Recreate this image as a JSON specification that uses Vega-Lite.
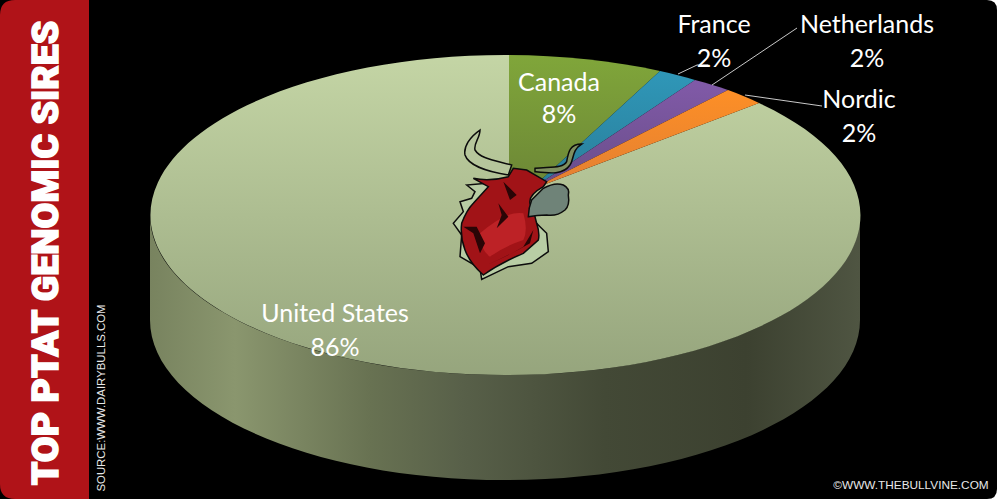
{
"$schema":"https://vega.github.io/schema/vega-lite/v6.json",
"width":1000,"height":500,"padding":0,"autosize":{"type":"none"},
"background":"#ffffff",
"config":{"view":{"stroke":null}},
"datasets":{
"slices":[{"country":"United States","share":0.86},{"country":"Canada","share":0.08},{"country":"France","share":0.02},{"country":"Netherlands","share":0.02},{"country":"Nordic","share":0.02}],
"leaders":[{"country":"France"},{"country":"Netherlands"},{"country":"Nordic"}],
"decor":[{"part":"card"},{"part":"band"}],
"wall":[{"part":"wall"}],
"bull":[{"part":"ring"},{"part":"horn"},{"part":"thin"},{"part":"body"},{"part":"snout"}],
"bullshade":[{"part":"light"},{"part":"shade"}],
"notes":[{"key":"title","text":"TOP PTAT GENOMIC SIRES"},{"key":"source","text":"SOURCE:WWW.DAIRYBULLS.COM"},{"key":"credit","text":"©WWW.THEBULLVINE.COM"}]
},
"layer":[
{"data":{"name":"decor"},"mark":{"type":"point","filled":true,"opacity":1,"size":4,"strokeWidth":0},
"encoding":{
"shape":{"field":"part","type":"nominal","legend":null,"scale":{"domain":["card","band"],"range":[
"M-500,-250 L487,-250 Q497,-250 497,-240 L497,239 Q497,249 487,249 L-500,249 Z",
"M-485,-250 L-411,-250 L-411,249 L-485,249 Q-500,249 -500,234 L-500,-235 Q-500,-250 -485,-250 Z"]}},
"fill":{"field":"part","type":"nominal","legend":null,"scale":{"domain":["card","band"],"range":["#000000","#b01318"]}}
}},
{"data":{"name":"wall"},"mark":{"type":"point","filled":true,"opacity":1,"size":4,"strokeWidth":0,
"fill":{"gradient":"linear","x1":0,"y1":0,"x2":1,"y2":0,"stops":[{"offset":0,"color":"#78835f"},{"offset":0.12,"color":"#8a966e"},{"offset":0.31,"color":"#687252"},{"offset":0.44,"color":"#586049"},{"offset":0.64,"color":"#434936"},{"offset":0.84,"color":"#3c4130"},{"offset":1,"color":"#4f5542"}]}},
"encoding":{
"shape":{"field":"part","type":"nominal","legend":null,"scale":{"domain":["wall"],"range":["M-350,-35 A355,160 0 0 0 360,-35 L360,70 A355,160 0 0 1 -350,70 Z"]}}
}},
{"data":{"name":"slices"},
"encoding":{
"shape":{"field":"country","type":"nominal","legend":null,"scale":{"domain":["United States","Canada","France","Netherlands","Nordic"],"range":[
"M259,-147 A355,160 0 1 1 9,-195 L9,-60 L30,-60 Z",
"M9,-195 A355,160 0 0 1 160,-179 L30,-60 L9,-60 Z",
"M160,-179 A355,160 0 0 1 195,-170 L30,-60 Z",
"M195,-170 A355,160 0 0 1 228,-160 L30,-60 Z",
"M228,-160 A355,160 0 0 1 259,-147 L30,-60 Z"]}}
},
"layer":[
{"transform":[{"filter":"datum.country=='United States'"}],"mark":{"type":"point","filled":true,"opacity":1,"size":4,"strokeWidth":0,"fill":{"gradient":"linear","x1":0,"y1":0,"x2":0,"y2":1,"stops":[{"offset":0,"color":"#c4d5a5"},{"offset":1,"color":"#96a57d"}]}}},
{"transform":[{"filter":"datum.country=='Canada'"}],"mark":{"type":"point","filled":true,"opacity":1,"size":4,"strokeWidth":0,"fill":{"gradient":"linear","x1":0,"y1":0,"x2":0,"y2":1,"stops":[{"offset":0,"color":"#80a63a"},{"offset":1,"color":"#6c8636"}]}}},
{"transform":[{"filter":"datum.country=='France'"}],"mark":{"type":"point","filled":true,"opacity":1,"size":4,"strokeWidth":0,"fill":{"gradient":"linear","x1":0,"y1":0,"x2":0,"y2":1,"stops":[{"offset":0,"color":"#2f97b8"},{"offset":1,"color":"#2a7d99"}]}}},
{"transform":[{"filter":"datum.country=='Netherlands'"}],"mark":{"type":"point","filled":true,"opacity":1,"size":4,"strokeWidth":0,"fill":{"gradient":"linear","x1":0,"y1":0,"x2":0,"y2":1,"stops":[{"offset":0,"color":"#815aa8"},{"offset":1,"color":"#684d88"}]}}},
{"transform":[{"filter":"datum.country=='Nordic'"}],"mark":{"type":"point","filled":true,"opacity":1,"size":4,"strokeWidth":0,"fill":{"gradient":"linear","x1":0,"y1":0,"x2":0,"y2":1,"stops":[{"offset":0,"color":"#fd8f26"},{"offset":1,"color":"#e27f33"}]}}}
]},
{"data":{"name":"leaders"},"mark":{"type":"point","filled":false,"opacity":1,"size":4,"strokeWidth":1,"color":"#c8c8c8"},
"encoding":{
"shape":{"field":"country","type":"nominal","legend":null,"scale":{"domain":["France","Netherlands","Nordic"],"range":[
"M178,-176 L197,-185 L208,-185",
"M212,-165 L297,-222",
"M245,-155 L322,-144"]}}
}},
{"data":{"name":"bull"},"mark":{"type":"point","filled":true,"opacity":1,"size":0.4444,"stroke":"#0c0c0c","strokeWidth":1.5},
"encoding":{
"shape":{"field":"part","type":"nominal","legend":null,"scale":{"domain":["ring","horn","thin","body","snout"],"range":[
"M-100,-195 L-75,-175 L-85,-155 L-120,-145 L-110,-115 L-140,-80 L-115,-45 L-120,20 L-60,55 L-55,88 L25,50 L95,40 L145,5 L140,-50 L120,-70 L90,-100 L20,-160 L-40,-200 Z",
"M35,-255 C-20,-270 -60,-275 -75,-300 C-80,-320 -60,-335 -60,-360 C-90,-340 -110,-310 -105,-285 C-95,-255 -40,-235 25,-225 Z",
"M105,-235 C150,-230 190,-225 210,-255 C222,-270 215,-300 245,-318 C210,-318 205,-295 200,-265 C190,-245 150,-250 105,-245 Z",
"M-80,-215 Q-30,-205 25,-220 L40,-245 L80,-240 L140,-205 L130,-190 Q85,-165 90,-140 Q105,-110 110,-80 Q120,-50 115,-30 L70,10 Q0,40 -50,75 Q-90,40 -105,0 Q-120,-40 -115,-80 Q-100,-120 -80,-140 L-35,-190 Z",
"M130,-185 Q165,-205 190,-195 Q210,-185 205,-165 Q210,-135 195,-120 Q170,-100 140,-105 Q110,-105 85,-100 Q85,-125 95,-150 Z"]}},
"fill":{"field":"part","type":"nominal","legend":null,"scale":{"domain":["ring","horn","thin","body","snout"],"range":["#b8cda4","#b6c69c","#7f8f5f","#a11317","#6f8378"]}}
}},
{"data":{"name":"bullshade"},"mark":{"type":"point","filled":true,"opacity":1,"size":0.4444,"strokeWidth":0},
"encoding":{
"shape":{"field":"part","type":"nominal","legend":null,"scale":{"domain":["light","shade"],"range":[
"M-60,-50 Q20,-120 70,-110 Q85,-60 70,-30 Q10,-10 -30,20 Q-60,0 -60,-50 Z",
"M-5,-140 L25,-100 L-10,-65 L5,-105 Z M-110,-70 L-70,-70 L-45,-20 L-60,10 L-80,-50 Z M-40,45 Q40,10 90,-20 L100,-60 L70,-10 Q20,20 -40,45 Z M10,-205 L50,-165 L30,-150 Z"]}},
"fill":{"field":"part","type":"nominal","legend":null,"scale":{"domain":["light","shade"],"range":["#bd2226","#2a0506"]}}
}},
{"data":{"name":"slices"},
"transform":[{"calculate":"datum.country + '\\n' + format(datum.share, '.0%')","as":"label"}],
"encoding":{"text":{"field":"label"}},
"layer":[
{"transform":[{"filter":"datum.country=='United States'"}],"mark":{"type":"text","font":"Lato","fontSize":25,"lineBreak":"\n","lineHeight":34,"color":"#ffffff","dx":-165,"dy":64}},
{"transform":[{"filter":"datum.country=='Canada'"}],"mark":{"type":"text","font":"Lato","fontSize":25,"lineBreak":"\n","lineHeight":32,"color":"#ffffff","dx":59,"dy":-167}},
{"transform":[{"filter":"datum.country=='France'"}],"mark":{"type":"text","font":"Lato","fontSize":25,"lineBreak":"\n","lineHeight":34,"color":"#ffffff","dx":214,"dy":-225}},
{"transform":[{"filter":"datum.country=='Netherlands'"}],"mark":{"type":"text","font":"Lato","fontSize":25,"lineBreak":"\n","lineHeight":34,"color":"#ffffff","dx":367,"dy":-225}},
{"transform":[{"filter":"datum.country=='Nordic'"}],"mark":{"type":"text","font":"Lato","fontSize":25,"lineBreak":"\n","lineHeight":34,"color":"#ffffff","dx":359,"dy":-150}}
]},
{"data":{"name":"notes"},"transform":[{"filter":"datum.key=='title'"}],"mark":{"type":"text","font":"Roboto","fontWeight":900,"fontSize":37.5,"color":"#ffffff","stroke":"#ffffff","strokeWidth":1.5,"angle":270,"dx":-3,"dy":-453},"encoding":{"text":{"field":"text"}}},
{"data":{"name":"notes"},"transform":[{"filter":"datum.key=='source'"}],"mark":{"type":"text","font":"Liberation Sans","fontSize":11.4,"color":"#e8e8e8","angle":270,"dx":-148,"dy":-398},"encoding":{"text":{"field":"text"}}},
{"data":{"name":"notes"},"transform":[{"filter":"datum.key=='credit'"}],"mark":{"type":"text","font":"Liberation Sans","fontSize":11.8,"color":"#e8e8e8","dx":411,"dy":235},"encoding":{"text":{"field":"text"}}}
],
"resolve":{"scale":{"shape":"independent","fill":"independent"}}
}
